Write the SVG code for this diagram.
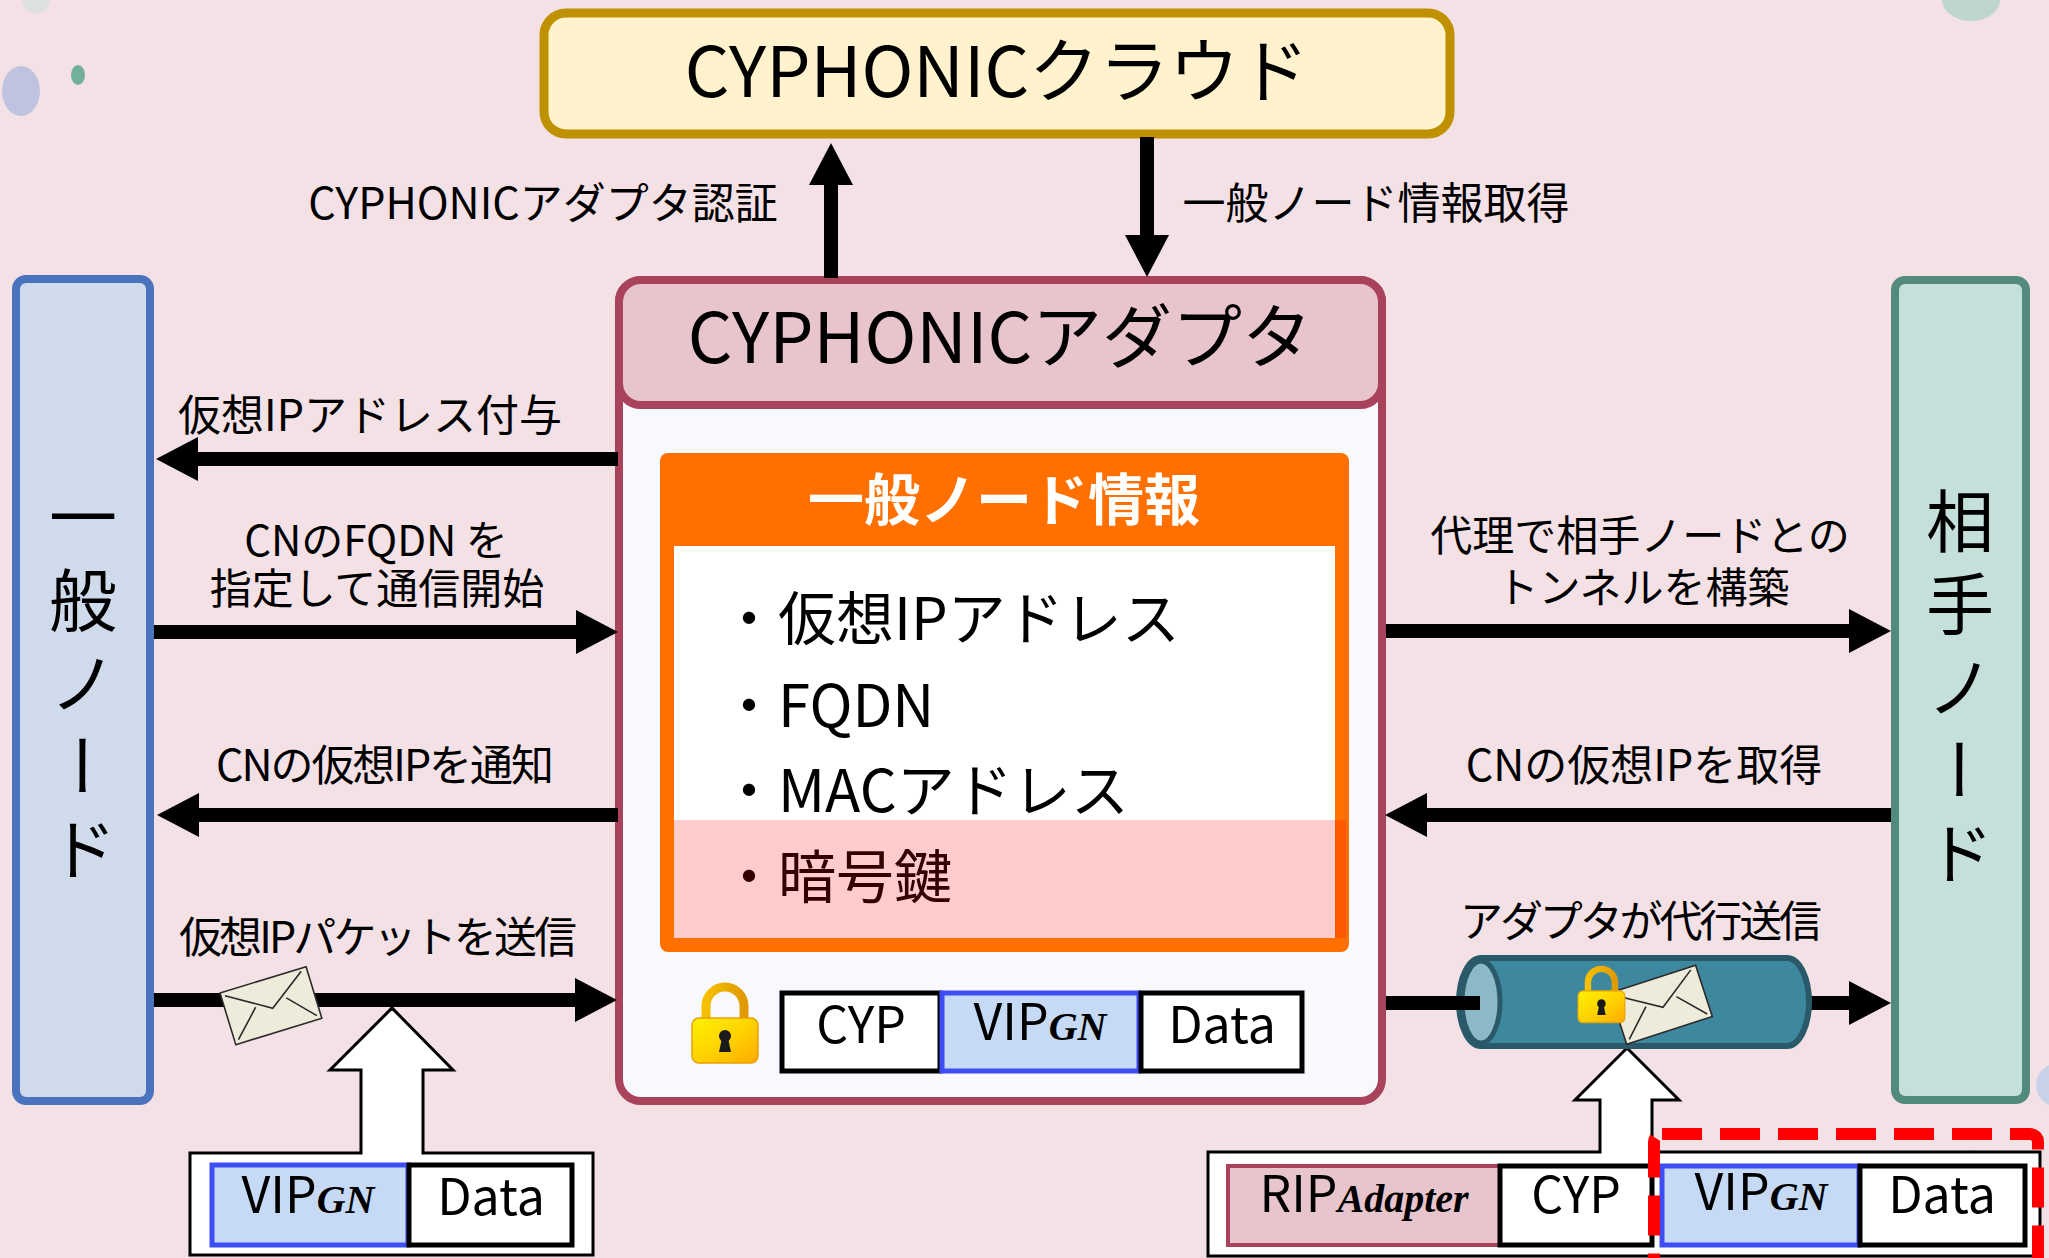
<svg xmlns="http://www.w3.org/2000/svg" width="2049" height="1258" viewBox="0 0 2049 1258">
  <style>
    text { font-family: "Noto Sans CJK JP", "Noto Sans", sans-serif; fill: #000; }
    .lbl { font-size: 43px; text-anchor: middle; }
    .lbl2 { font-size: 42px; text-anchor: middle; }
    .big { font-size: 70px; text-anchor: middle; }
    .item { font-size: 58px; }
    .pk { font-size: 50px; text-anchor: middle; }
    .sub { font-family: "Liberation Serif", serif; font-style: italic; font-weight: bold; font-size: 40px; }
    .vert { font-size: 68px; writing-mode: vertical-rl; letter-spacing: 15px; }
    .shaft { stroke: #000; stroke-width: 14; fill: none; }
    .box-w { fill: #fff; stroke: #000; stroke-width: 5; }
    .box-v { fill: #C6D9F5; stroke: #3D4EF5; stroke-width: 5; }
    .frame { fill: #fff; stroke: #000; stroke-width: 3; stroke-linejoin: miter; }
    .env { fill: #EFEBDB; stroke: #2a2a2a; stroke-width: 1.6; stroke-linejoin: round; }
    .env-line { fill: none; stroke: #2a2a2a; stroke-width: 1.6; }
  </style>
  <defs>
    <marker id="ah" markerUnits="userSpaceOnUse" viewBox="0 0 44 44" markerWidth="44" markerHeight="44" refX="1" refY="22" orient="auto">
      <path d="M0,0 L42,22 L0,44 Z" fill="#000"/>
    </marker>
    <linearGradient id="lockBody" x1="0" y1="0" x2="1" y2="1">
      <stop offset="0" stop-color="#FFF200"/>
      <stop offset="0.55" stop-color="#FFD000"/>
      <stop offset="1" stop-color="#FFAA00"/>
    </linearGradient>
    <linearGradient id="lockShackle" x1="0" y1="0" x2="1" y2="0">
      <stop offset="0" stop-color="#F6C000"/>
      <stop offset="1" stop-color="#E09A00"/>
    </linearGradient>
    <!-- padlock, 66 x 80 -->
    <g id="lock">
      <path d="M14,40 V23 A19,19 0 0 1 52,23 V40" fill="none" stroke="url(#lockShackle)" stroke-width="9"/>
      <rect x="0" y="35" width="66" height="45" rx="7" fill="url(#lockBody)" stroke="#E8A000" stroke-width="1.5"/>
      <circle cx="33" cy="53" r="6" fill="#1a1a1a"/>
      <path d="M30,55 L27,69 H39 L36,55 Z" fill="#1a1a1a"/>
    </g>
    <!-- envelope, 90 x 54 -->
    <g id="envelope">
      <path class="env" d="M0,0 H90 V54 H0 Z"/>
      <path class="env-line" d="M4,4 L46,30 L84,3"/>
      <path class="env-line" d="M4,50 L30,24 M86,50 L62,24"/>
    </g>
  </defs>

  <!-- background -->
  <rect width="2049" height="1258" fill="#F4E1E6"/>
  <ellipse cx="36" cy="0" rx="14" ry="13" fill="#DCE0DF"/>
  <ellipse cx="21" cy="91" rx="19" ry="25" fill="#BFC3DF"/>
  <ellipse cx="78" cy="75" rx="7" ry="10" fill="#72B09E"/>
  <ellipse cx="1971" cy="0" rx="29" ry="21" fill="#BFD5CF"/>
  <circle cx="2058" cy="1085" r="22" fill="#C8D3EA"/>
  <circle cx="1971" cy="1178" r="28" fill="#C3D3DC"/>

  <!-- cloud -->
  <g id="cloud">
    <rect x="544" y="13" width="906" height="121" rx="22" fill="#FFF2CC" stroke="#BF9000" stroke-width="9"/>
    <text class="big" x="997" y="97">CYPHONICクラウド</text>
  </g>

  <!-- general node -->
  <g id="general-node">
    <rect x="16" y="279" width="134" height="822" rx="10" fill="#CFDAEB" stroke="#4A72BD" stroke-width="8"/>
    <text class="vert" x="83" y="483">一般ノード</text>
  </g>

  <!-- correspondent node -->
  <g id="peer-node">
    <rect x="1895" y="280" width="131" height="820" rx="10" fill="#C5DFDA" stroke="#528A7E" stroke-width="8"/>
    <text class="vert" x="1960" y="487">相手ノード</text>
  </g>

  <!-- adapter -->
  <g id="adapter">
    <rect x="619" y="280" width="763" height="821" rx="22" fill="#F8F9FE" stroke="#A9435C" stroke-width="8"/>
    <rect x="619" y="280" width="763" height="125" rx="22" fill="#E8C4CC" stroke="#A9435C" stroke-width="8"/>
    <text class="big" x="1000" y="363">CYPHONICアダプタ</text>

    <!-- node information table -->
    <g id="node-info">
      <rect x="660" y="453" width="689" height="499" rx="8" fill="#FF7000"/>
      <rect x="674" y="546" width="661" height="392" fill="#FFFFFF"/>
      <text x="1004" y="520" font-size="56" font-weight="bold" text-anchor="middle" style="fill:#fff">一般ノード情報</text>
      <text class="item" x="720" y="640">・仮想IPアドレス</text>
      <text class="item" x="720" y="727">・FQDN</text>
      <text class="item" x="720" y="812">・MACアドレス</text>
      <text class="item" x="720" y="898">・暗号鍵</text>
      <rect x="674" y="820" width="672" height="118" fill="#FF0000" fill-opacity="0.2"/>
    </g>

    <!-- encapsulated packet -->
    <use href="#lock" x="692" y="983"/>
    <rect class="box-w" x="782" y="993" width="158" height="78"/>
    <rect class="box-v" x="942" y="993" width="197" height="78"/>
    <rect class="box-w" x="1141" y="993" width="161" height="78"/>
    <text class="pk" x="861" y="1043">CYP</text>
    <text class="pk" x="1040" y="1040">VIP<tspan class="sub">GN</tspan></text>
    <text class="pk" x="1222" y="1043">Data</text>
  </g>

  <!-- packet from general node -->
  <g id="packet-gn">
    <path class="frame" d="M190,1255 V1153 H361 V1070 H330 L392,1008 L453,1070 H423 V1153 H593 V1255 Z"/>
    <rect class="box-v" x="212" y="1165" width="196" height="80"/>
    <rect class="box-w" x="409" y="1165" width="163" height="80"/>
    <text class="pk" x="308" y="1213">VIP<tspan class="sub">GN</tspan></text>
    <text class="pk" x="491" y="1215">Data</text>
  </g>

  <!-- packet sent by adapter -->
  <g id="packet-adapter">
    <path class="frame" d="M1208,1256 V1152 H1600 V1100 H1575 L1627,1048 L1679,1100 H1652 V1152 H2040 V1256 Z"/>
    <rect x="1228" y="1166" width="272" height="79" fill="#E8C4CC" stroke="#A9435C" stroke-width="4"/>
    <rect class="box-w" x="1500" y="1166" width="152" height="79"/>
    <rect class="box-v" x="1662" y="1166" width="197" height="79"/>
    <rect class="box-w" x="1860" y="1166" width="165" height="79"/>
    <text class="pk" x="1364" y="1212">RIP<tspan class="sub">Adapter</tspan></text>
    <text class="pk" x="1576" y="1213">CYP</text>
    <text class="pk" x="1761" y="1210">VIP<tspan class="sub">GN</tspan></text>
    <text class="pk" x="1942" y="1213">Data</text>
    <rect x="1654" y="1134" width="384" height="140" rx="8" fill="none" stroke="#FF0000" stroke-width="12" stroke-dasharray="40 18"/>
  </g>

  <!-- connectors and their labels -->
  <g id="connectors">
    <path class="shaft" d="M831,278 V184" marker-end="url(#ah)"/>
    <text class="lbl" x="543" y="219">CYPHONICアダプタ認証</text>

    <path class="shaft" d="M1147,137 V236" marker-end="url(#ah)"/>
    <text class="lbl" x="1376" y="219">一般ノード情報取得</text>

    <path class="shaft" d="M618,459 H197" marker-end="url(#ah)"/>
    <text class="lbl" x="370" y="431">仮想IPアドレス付与</text>

    <path class="shaft" d="M154,632 H577" marker-end="url(#ah)"/>
    <text class="lbl2"><tspan x="376" y="556">CNのFQDN を</tspan><tspan x="377" y="604">指定して通信開始</tspan></text>

    <path class="shaft" d="M618,815 H198" marker-end="url(#ah)"/>
    <text class="lbl" x="385" y="781" textLength="338" lengthAdjust="spacing">CNの仮想IPを通知</text>

    <path class="shaft" d="M154,1000 H576" marker-end="url(#ah)"/>
    <text class="lbl" x="378" y="953" textLength="398" lengthAdjust="spacing">仮想IPパケットを送信</text>
    <use href="#envelope" transform="translate(220,993) rotate(-17)"/>

    <path class="shaft" d="M1386,631 H1850" marker-end="url(#ah)"/>
    <text class="lbl2"><tspan x="1640" y="551">代理で相手ノードとの</tspan><tspan x="1643" y="603">トンネルを構築</tspan></text>

    <path class="shaft" d="M1891,815 H1426" marker-end="url(#ah)"/>
    <text class="lbl" x="1644" y="781">CNの仮想IPを取得</text>

    <!-- tunnel -->
    <text class="lbl" x="1641" y="937" textLength="362" lengthAdjust="spacing">アダプタが代行送信</text>
    <path class="shaft" d="M1805,1003 H1850" marker-end="url(#ah)"/>
    <path d="M1481,958 H1787 A22,44 0 0 1 1787,1046 H1481 A22,44 0 0 1 1481,958 Z" fill="#3D889F" stroke="#2A5A6A" stroke-width="6"/>
    <ellipse cx="1481" cy="1002" rx="19" ry="41" fill="#8CB9C7" stroke="#2A5A6A" stroke-width="5"/>
    <path class="shaft" d="M1386,1003 H1480"/>
    <use href="#envelope" transform="translate(1610,993) rotate(-18)"/>
    <use href="#lock" transform="translate(1578,966) scale(0.71)"/>
  </g>
</svg>
